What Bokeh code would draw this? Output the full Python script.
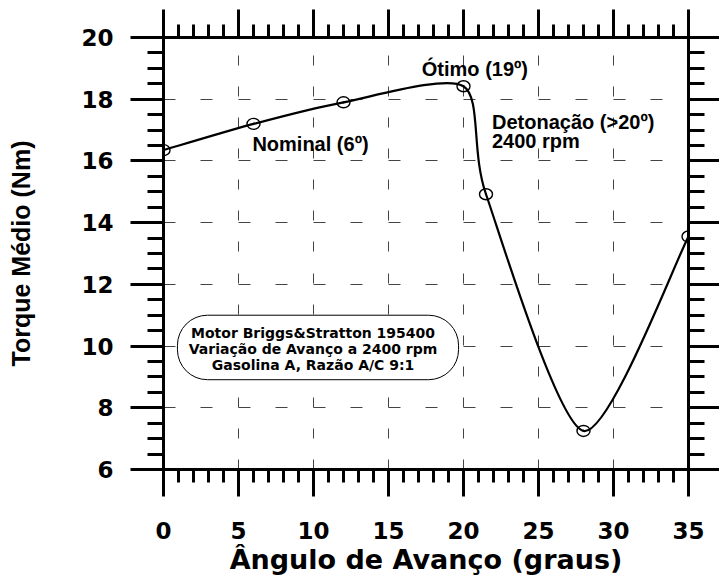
import numpy as np
from bokeh.plotting import figure
from bokeh.models import Range1d, LinearAxis, SingleIntervalTicker, CustomJSTickFormatter
from bokeh.core.properties import value
from bokeh.embed import file_html
from bokeh.resources import INLINE

# Torque médio medido em função do ângulo de avanço de ignição
angulo = [0, 6, 12, 20, 21.5, 28, 35]                     # graus
torque = [16.35, 17.2, 17.9, 18.42, 14.92, 7.25, 13.55]   # Nm

x_ticks_interval = 5
y_ticks_interval = 2

notas_centro = ["Ótimo (19º)", "Nominal (6º)"]
notas_esquerda = ["Detonação (>20º)", "2400 rpm"]
caixa_linhas = [
    "Motor Briggs&Stratton 195400",
    "Variação de Avanço a 2400 rpm",
    "Gasolina A, Razão A/C 9:1",
]

TICK_FONT = "DejaVu Sans"
NOTE_FONT = "Liberation Sans"

p = figure(
    width=719, height=577,
    x_range=Range1d(0, 35), y_range=Range1d(6, 20),
    output_backend="svg", toolbar_location=None,
    min_border_left=163, min_border_right=31,
    min_border_top=37, min_border_bottom=104,
)
p.outline_line_color = None
p.background_fill_color = "white"
p.border_fill_color = "white"

xt = SingleIntervalTicker(interval=x_ticks_interval, num_minor_ticks=5)
yt = SingleIntervalTicker(interval=y_ticks_interval, num_minor_ticks=4)


def style_axis(ax, tick_out, minor_out, labels=True):
    ax.axis_line_width = 3
    ax.axis_line_color = "black"
    ax.major_tick_line_width = 3
    ax.minor_tick_line_width = 3
    ax.major_tick_line_color = "black"
    ax.minor_tick_line_color = "black"
    ax.major_tick_in = 0
    ax.minor_tick_in = 0
    ax.major_tick_out = tick_out
    ax.minor_tick_out = minor_out
    if labels:
        ax.major_label_text_font = TICK_FONT
        ax.major_label_text_font_style = "bold"
        ax.major_label_text_font_size = "23px"
        ax.major_label_text_color = "black"
    else:
        # frame-closing axis: ticks only, no tick labels
        ax.formatter = CustomJSTickFormatter(code="return ''")
        ax.major_label_text_font_size = "1px"
        ax.major_label_standoff = 0


# bottom / left axes carry the labels
xa = p.xaxis[0]
ya = p.yaxis[0]
xa.ticker = xt
ya.ticker = yt
style_axis(xa, 27, 13)
style_axis(ya, 33, 16)
xa.major_label_standoff = 25
ya.major_label_standoff = 17

xa.axis_label = "Ângulo de Avanço (graus)"
xa.axis_label_text_font = TICK_FONT
xa.axis_label_text_font_style = "bold"
xa.axis_label_text_font_size = "27px"
xa.axis_label_text_color = "black"
xa.axis_label_standoff = 2

ya.axis_label = "Torque Médio (Nm)"
ya.axis_label_text_font = NOTE_FONT
ya.axis_label_text_font_style = "bold"
ya.axis_label_text_font_size = "25px"
ya.axis_label_text_color = "black"
ya.axis_label_standoff = 43

# top / right axes close the frame, ticks only
top = LinearAxis(ticker=xt)
style_axis(top, 28, 13, labels=False)
p.add_layout(top, "above")
right = LinearAxis(ticker=yt)
style_axis(right, 31, 16, labels=False)
p.add_layout(right, "right")

# dashed grid
p.xgrid.ticker = xt
p.ygrid.ticker = yt
p.xgrid.grid_line_color = "#444444"
p.ygrid.grid_line_color = "#444444"
p.xgrid.grid_line_width = 1
p.ygrid.grid_line_width = 1
p.xgrid.grid_line_dash = "10 21 10 21 10 21 10 21 10 21 10 21 10 22"
p.ygrid.grid_line_dash = "12 25 12 26"

# information box
p.quad(left=0.93, right=19.67, top=11.0, bottom=8.91, border_radius=30,
       fill_color="white", line_color="black", line_width=1)
p.text(x=[9.97, 9.97, 9.97], y=[10.42, 9.92, 9.40], text=caixa_linhas,
       text_font=value(TICK_FONT), text_font_style="bold", text_font_size="14px",
       text_align="center", text_baseline="alphabetic", text_color="black")

# smooth curve through the measurements: cardinal spline drawn as cubic Béziers
HANDLE = 1.0 / 8.0
ax_ = np.array(angulo, dtype=float)
ay_ = np.array(torque, dtype=float)
px_prev = np.concatenate([[ax_[0]], ax_[:-1]])
py_prev = np.concatenate([[ay_[0]], ay_[:-1]])
px_next = np.concatenate([ax_[1:], [ax_[-1]]])
py_next = np.concatenate([ay_[1:], [ay_[-1]]])
tx = (px_next - px_prev) * HANDLE
ty = (py_next - py_prev) * HANDLE
p.bezier(
    x0=ax_[:-1], y0=ay_[:-1], x1=ax_[1:], y1=ay_[1:],
    cx0=ax_[:-1] + tx[:-1], cy0=ay_[:-1] + ty[:-1],
    cx1=ax_[1:] - tx[1:], cy1=ay_[1:] - ty[1:],
    line_color="black", line_width=2.2, line_cap="round",
)

# measured points
p.ellipse(x=angulo, y=torque, width=13, height=11,
          width_units="screen", height_units="screen",
          fill_alpha=0, line_color="black", line_width=1.4)

# annotations
p.text(x=[20.76, 9.8], y=[18.99, 16.55], text=notas_centro,
       text_font=value(NOTE_FONT), text_font_style="bold", text_font_size="20px",
       text_align="center", text_baseline="alphabetic", text_color="black")
p.text(x=[21.9, 21.9], y=[17.25, 16.66], text=notas_esquerda,
       text_font=value(NOTE_FONT), text_font_style="bold", text_font_size="20px",
       text_align="left", text_baseline="alphabetic", text_color="black")

open("out.html", "w").write(file_html(p, INLINE))
